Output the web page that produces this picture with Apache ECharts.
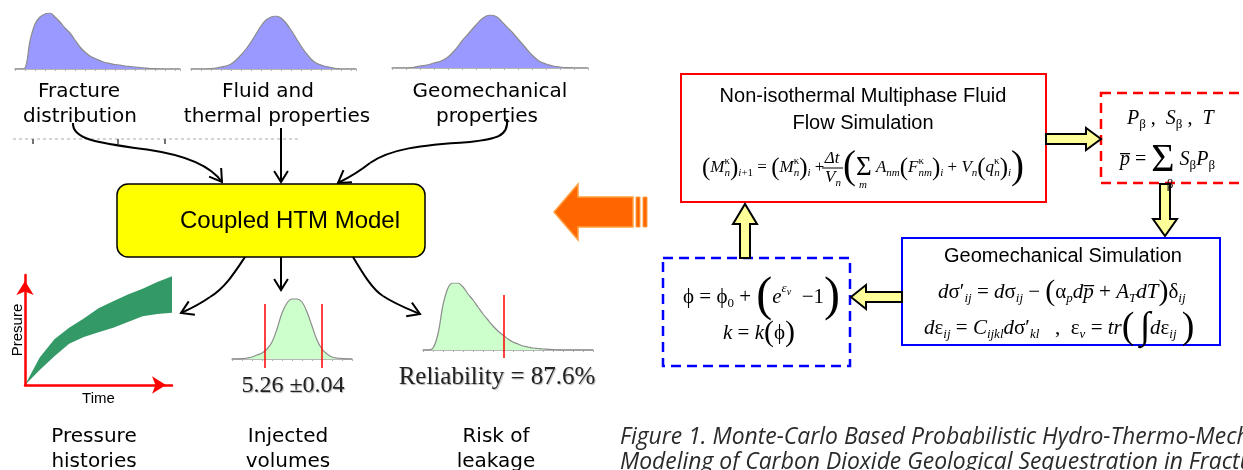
<!DOCTYPE html>
<html><head><meta charset="utf-8">
<script src="https://cdn.jsdelivr.net/npm/echarts@6/dist/echarts.min.js"></script>
<style>html,body{margin:0;padding:0;background:#fff}#c{width:1243px;height:470px}</style>
</head><body><div id="c"></div>
<script>
// ---------------- data ----------------
const fractureDensity = [0,0,1,28,45,52,55,56,52,47,41,36,29,22,17,13,10.5,8.5,6.5,5.5,4.5,4,3,2.5,2,1.5,1,0.5,0.3,0,0,0,0,0];
const fluidDensity    = [0,0,0,0,0.5,1,2,3,5,9,14,20,27,35,43,49,52,53,51,46,39,31,23,16,10,6,4,2.5,1.5,0.5,0,0,0,0];
const geomechDensity  = [0,0,0,0.5,2,3,5,7,11,18,27,35,43,50,53,51,44,37,29,21,13,7,4,2,1,0.3,0,0,0];
const pressureTime  = [0,1,2,3,4,5,6,7,8,9,10];
const pressureUpper = [0,2.4,4.0,5.0,5.8,6.7,7.3,7.9,8.4,9.0,9.5];
const pressureLower = [0,1.3,2.5,3.6,4.2,4.6,5.0,5.5,6.0,6.2,6.3];
const injectedDensity = [0,0,0.3,1,2,4,6,10,17,30,46,56,60,60,57,47,33,19,10,5,2,1,0.5,0,0];
const injectedBounds  = [6.6, 18];
const leakageDensity  = [0,0,2,16,45,62,67,67,63,56,50,43,36,30,24,19,15,11,8,6,4,3,2,1.5,1,0.7,0.4,0.2,0,0,0,0,0,0,0];
const leakageThreshold = [16.2];
const inputLabels  = [['Fracture','distribution'],['Fluid and','thermal properties'],['Geomechanical','properties']];
const outputLabels = [['Pressure','histories'],['Injected','volumes'],['Risk of','leakage']];
const injectedText = '5.26 \u00b10.04';
const reliabilityText = 'Reliability = 87.6%';
const captionLines = ['Figure 1. Monte-Carlo Based Probabilistic Hydro-Thermo-Mechanical','Modeling of Carbon Dioxide Geological Sequestration in Fractured Reservoirs'];

// ---------------- helpers ----------------
const SERIF = '"Liberation Serif","Times New Roman",serif';
const ARIAL = '"Liberation Sans",Arial,sans-serif';
const VERD = '"DejaVu Sans",Verdana,sans-serif';

function txt(x, y, text, size, family, extra) {
  return {type:'text', x:x, y:y, z:20, silent:true,
    style:Object.assign({text:text, fontSize:size, fontFamily:family, fill:'#000', align:'center', verticalAlign:'middle'}, extra || {})};
}
function rect(x, y, w, h, style, r) {
  return {type:'rect', z:5, silent:true, shape:{x:x, y:y, width:w, height:h, r:r||0}, style:style};
}
function poly(points, style) {
  return {type:'polygon', z:15, silent:true, shape:{points:points}, style:style};
}
function bez(p0, c1, c2, p1) {
  return {type:'bezierCurve', z:15, silent:true,
    shape:{x1:p0[0], y1:p0[1], cpx1:c1[0], cpy1:c1[1], cpx2:c2[0], cpy2:c2[1], x2:p1[0], y2:p1[1]},
    style:{stroke:'#000', lineWidth:2, fill:'none'}};
}
function line(p0, p1, style) {
  return {type:'line', z:15, silent:true, shape:{x1:p0[0], y1:p0[1], x2:p1[0], y2:p1[1]}, style:style};
}
function head(tip, from, len, ang) {
  const dx = tip[0]-from[0], dy = tip[1]-from[1], d = Math.hypot(dx, dy);
  const bx = -dx/d, by = -dy/d, a = ang*Math.PI/180, c = Math.cos(a), s = Math.sin(a);
  const p1 = [tip[0]+len*(bx*c-by*s), tip[1]+len*(bx*s+by*c)];
  const p2 = [tip[0]+len*(bx*c+by*s), tip[1]+len*(-bx*s+by*c)];
  return {type:'polyline', z:15, silent:true, shape:{points:[p1, tip, p2]}, style:{stroke:'#000', lineWidth:2, fill:'none'}};
}
// rich-text styles: every token shares one line box (LH); sub/superscripts are shifted
// by giving them a box height and aligning them to the bottom/top of that line box.
function mathRich(size) {
  const LH = Math.round(size*2.8), s = Math.round(size*0.64);
  const hSub = Math.round(LH - 0.6*size), hSup = Math.round(LH - 0.8*size);
  const b = {fontFamily:SERIF, fill:'#000', lineHeight:LH, align:'left'};
  const sub = {fontSize:s, height:hSub, verticalAlign:'bottom'};
  const sup = {fontSize:s, height:hSup, verticalAlign:'top'};
  return {
    r:  Object.assign({}, b, {fontSize:size}),
    i:  Object.assign({}, b, {fontSize:size, fontStyle:'italic'}),
    sb: Object.assign({}, b, sub, {fontStyle:'italic'}),
    sbr:Object.assign({}, b, sub),
    sp: Object.assign({}, b, sup, {fontStyle:'italic'}),
    ss: Object.assign({}, b, {fontSize:Math.round(size*0.48), fontStyle:'italic', height:Math.round(LH - 0.45*size), verticalAlign:'top'}),
    spz:Object.assign({}, b, sup, {width:0.01}),
    P:  Object.assign({}, b, {fontSize:Math.round(size*1.45)}),
    PM: Object.assign({}, b, {fontSize:Math.round(size*1.8)}),
    PP: Object.assign({}, b, {fontSize:Math.round(size*2.3)}),
    S:  Object.assign({}, b, {fontSize:Math.round(size*1.6)}),
    SS: Object.assign({}, b, {fontSize:Math.round(size*2.0)})
  };
}
function math(x, y, text, size) {
  return {type:'text', x:x, y:y, z:20, silent:true,
    style:{text:text, rich:mathRich(size), fontFamily:SERIF, fontSize:size, fill:'#000', align:'left', verticalAlign:'middle'}};
}

// ---------------- graphic (diagram) ----------------
const G = [];
const YEL = {fill:'#ffff99', stroke:'#000', lineWidth:2};

const inX = [[79,80],[268,277],[490,487]];
inputLabels.forEach((l, k) => { G.push(txt(inX[k][0], 92, l[0], 20, VERD)); G.push(txt(inX[k][1], 117, l[1], 20, VERD)); });
const outX = [94, 288, 496];
outputLabels.forEach((l, k) => { G.push(txt(outX[k], 437, l[0], 20, VERD)); G.push(txt(outX[k], 462, l[1], 20, VERD)); });

G.push(line([13,139],[300,139], {stroke:'#c8c8c8', lineWidth:1.5, lineDash:[3,3]}));
[33,118,165].forEach(x => G.push(line([x,139],[x,144], {stroke:'#444', lineWidth:1.5})));

G.push(rect(117, 184, 308, 73, {fill:'#ffff00', stroke:'#000', lineWidth:1.5}, 11));
G.push(txt(290, 221, 'Coupled HTM Model', 24, ARIAL));

G.push(bez([73,123],[72,140],[100,143],[150,150]));
G.push(bez([150,150],[190,156],[212,168],[222,182]));
G.push(head([222,182],[212,168],14,32));
G.push(line([281,128],[281,182], {stroke:'#000', lineWidth:2}));
G.push(head([281,182],[281,170],13,32));
G.push(bez([507,119],[509,137],[495,139],[470,142]));
G.push(bez([470,142],[420,145],[390,149],[370,163]));
G.push(bez([370,163],[360,171],[348,178],[338,183]));
G.push(head([338,183],[348,176],14,32));
G.push(bez([245,257],[235,272],[225,288],[210,297]));
G.push(bez([210,297],[200,304],[190,309],[181,313]));
G.push(head([181,313],[192,308],14,32));
G.push(line([281,257],[281,290], {stroke:'#000', lineWidth:2}));
G.push(head([281,290],[281,280],13,32));
G.push(bez([353,257],[362,272],[372,289],[383,296]));
G.push(bez([383,296],[395,304],[408,309],[420,314]));
G.push(head([420,314],[408,309],14,32));

const shadow = {fill:'#222', textShadowColor:'rgba(0,0,0,0.3)', textShadowBlur:1, textShadowOffsetX:1, textShadowOffsetY:1};
G.push(txt(293, 386, injectedText, 24, SERIF, shadow));
G.push(txt(497, 377, reliabilityText, 25, SERIF, shadow));

G.push(poly([[554,212],[578,184],[578,197],[633,197],[633,227],[578,227],[578,240]], {fill:'#ff6600', stroke:'#ffa040', lineWidth:1.5}));
G.push(rect(636,197,4,30,{fill:'#ff6600', stroke:'#ffa040', lineWidth:1}));
G.push(rect(643,197,4,30,{fill:'#ff6600', stroke:'#ffa040', lineWidth:1}));

// red solid box - fluid flow
G.push(rect(681, 74, 365, 128, {fill:'#fff', stroke:'#ff0000', lineWidth:2}));
G.push(txt(863, 96, 'Non-isothermal Multiphase Fluid', 20, ARIAL));
G.push(txt(863, 123, 'Flow Simulation', 20, ARIAL));
G.push(math(702, 168, '{P|(}{i|M}{spz|\u03ba}{sb|n}{P|)}{sb|i}{sbr|+1}{r| = }{P|(}{i|M}{spz|\u03ba}{sb|n}{P|)}{sb|i}{r| +}', 17));
G.push(txt(832, 159, '\u0394t', 17, SERIF, {fontStyle:'italic'}));
G.push(line([822,168],[843,168], {stroke:'#000', lineWidth:1}));
G.push(math(825, 178, '{i|V}{sb|n}', 17));
G.push(math(843, 168, '{PP|(}{S|\u03a3}{i| A}{sb|nm}{P|(}{i|F}{spz|\u03ba}{sb|nm}{P|)}{sb|i}{r| + }{i|V}{sb|n}{P|(}{i|q}{spz|\u03ba}{sb|n}{P|)}{sb|i}{PP|)}', 17));
G.push(txt(863, 185, 'm', 11, SERIF, {fontStyle:'italic'}));

// red dashed box
G.push(rect(1101, 93, 160, 90, {fill:'#fff', stroke:'#ff0000', lineWidth:2.5, lineDash:[10,6]}));
G.push(math(1127, 119, '{i|P}{sbr|\u03b2}{r| ,  }{i|S}{sbr|\u03b2}{r| ,  }{i|T}', 20));
G.push(math(1120, 160, '{i|p\u0305}{r| = }{SS|\u03a3}{i| S}{sbr|\u03b2}{i|P}{sbr|\u03b2}', 20));
G.push(txt(1170, 185, '\u03b2', 13, SERIF));

// yellow arrows
G.push(poly([[1046,134],[1086,134],[1086,128],[1101,139],[1086,150],[1086,144],[1046,144]], YEL));
G.push(poly([[1160,184],[1170,184],[1170,219],[1177,219],[1165,236],[1153,219],[1160,219]], YEL));
G.push(poly([[902,292],[866,292],[866,285],[851,297],[866,309],[866,302],[902,302]], YEL));
G.push(poly([[740,258],[740,224],[733,224],[745,204],[757,224],[750,224],[750,258]], YEL));

// blue solid box - geomechanics
G.push(rect(902, 238, 318, 107, {fill:'#fff', stroke:'#0000ff', lineWidth:2}));
G.push(txt(1063, 256, 'Geomechanical Simulation', 20, ARIAL));
G.push(math(938, 292, '{i|d}{r|\u03c3\u2032}{sb|ij}{r| = }{i|d}{r|\u03c3}{sb|ij}{r| \u2212 }{P|(}{r|\u03b1}{sb|p}{i|d}{i|p\u0305}{r| + }{i|A}{sb|T}{i|dT}{P|)}{r|\u03b4}{sb|ij}', 21));
G.push(math(924, 328, '{i|d}{r|\u03b5}{sb|ij}{r| = }{i|C}{sb|ijkl}{i|d}{r|\u03c3\u2032}{sb|kl}{r|   ,  \u03b5}{sb|v}{r| = }{i|tr}{PM|(}{r| }{PM|\u222b}{i|d}{r|\u03b5}{sb|ij}{r| }{PM|)}', 21));

// blue dashed box
G.push(rect(663, 258, 187, 108, {fill:'#fff', stroke:'#0000ff', lineWidth:2.5, lineDash:[10,6]}));
G.push(math(683, 297, '{r|\u03d5 = \u03d5}{sbr|0}{r| + }{PP|(}{i|e}{sp|\u03b5}{ss|v}{r|  \u22121}{PP|)}', 21));
G.push(math(723, 333, '{i|k}{r| = }{i|k}{P|(}{r|\u03d5}{P|)}', 21));

// caption
const CAP = '"Open Sans","Noto Sans",sans-serif';
G.push(txt(620, 437, captionLines[0], 22.9, CAP, {align:'left', fontStyle:'italic', fill:'#2a2a2a'}));
G.push(txt(620, 462, captionLines[1], 22.9, CAP, {align:'left', fontStyle:'italic', fill:'#2a2a2a'}));

// ---------------- charts ----------------
const grids = [
  {left:15,  top:13,  width:165, height:56},
  {left:191, top:16,  width:165, height:53},
  {left:392, top:15,  width:196, height:53},
  {left:25,  top:275, width:147, height:110},
  {left:232, top:298, width:120, height:70},
  {left:423, top:283, width:170, height:75}
].map(g => Object.assign({outerBoundsMode:'none', containLabel:false, show:false}, g));

function distX(gi, n, interval) {
  return {type:'value', gridIndex:gi, min:0, max:n-1, interval:interval,
    axisLine:{show:true, onZero:true, lineStyle:{color:'#a0a0a0', width:1.5}},
    axisTick:{show:true, length:2, lineStyle:{color:'#b0b0b0'}},
    axisLabel:{show:false}, splitLine:{show:false}};
}
function distY(gi, min, max) {
  return {type:'value', gridIndex:gi, min:min, max:max, show:false, splitLine:{show:false}};
}
function distSeries(gi, arr, fill) {
  return {type:'line', xAxisIndex:gi, yAxisIndex:gi, data:arr.map((v,i)=>[i,v]), smooth:0.35,
    symbol:'none', silent:true, animation:false, lineStyle:{color:'#8c8c8c', width:1.2},
    areaStyle:{color:fill, opacity:1, origin:'auto'}};
}
const redMark = (xs, top, bottom) => ({symbol:'none', silent:true, label:{show:false}, animation:false,
  lineStyle:{color:'#ff0000', width:1.5, type:'solid'},
  data: xs.map(x => [{coord:[x, bottom]}, {coord:[x, top]}])});

const pressAxisLine = {show:true, onZero:false, lineStyle:{color:'#ff0000', width:2.5}, symbol:['none','arrow'], symbolSize:[13,14], symbolOffset:[0,-6]};
const xAxes = [
  distX(0, fractureDensity.length, 2),
  distX(1, fluidDensity.length, 2),
  distX(2, geomechDensity.length, 2),
  {type:'value', gridIndex:3, min:0, max:10, z:10, name:'Time', nameLocation:'middle', nameGap:6,
    nameTextStyle:{fontFamily:ARIAL, fontSize:15, color:'#000', verticalAlign:'top'},
    axisLine:pressAxisLine, axisTick:{show:false}, axisLabel:{show:false}, splitLine:{show:false}},
  distX(4, injectedDensity.length, 2),
  distX(5, leakageDensity.length, 2)
];
const yAxes = [
  distY(0, 0, 56), distY(1, 0, 53), distY(2, 0, 53),
  {type:'value', gridIndex:3, min:0, max:9.6, z:10, name:'Presure', nameLocation:'middle', nameGap:0, nameRotate:90,
    nameTextStyle:{fontFamily:ARIAL, fontSize:15, color:'#000'},
    axisLine:pressAxisLine, axisTick:{show:false}, axisLabel:{show:false}, splitLine:{show:false}},
  distY(4, -9, 61), distY(5, -8, 67)
];

const series = [
  distSeries(0, fractureDensity, '#9999ff'),
  distSeries(1, fluidDensity, '#9999ff'),
  distSeries(2, geomechDensity, '#9999ff'),
  {type:'line', xAxisIndex:3, yAxisIndex:3, z:2, symbol:'none', silent:true, animation:false,
    data:pressureTime.map((t,i)=>[t, pressureUpper[i]]), lineStyle:{width:0, opacity:0},
    areaStyle:{color:'#339966', opacity:1}},
  {type:'line', xAxisIndex:3, yAxisIndex:3, z:3, symbol:'none', silent:true, animation:false,
    data:pressureTime.map((t,i)=>[t, pressureLower[i]]), lineStyle:{width:0, opacity:0},
    areaStyle:{color:'#ffffff', opacity:1}},
  Object.assign(distSeries(4, injectedDensity, '#ccffcc'), {markLine:redMark(injectedBounds, 55, -9)}),
  Object.assign(distSeries(5, leakageDensity, '#ccffcc'), {markLine:redMark(leakageThreshold, 55, -8)})
];

const chart = echarts.init(document.getElementById('c'), null, {renderer:'canvas'});
chart.setOption({
  backgroundColor:'#fff',
  animation:false,
  grid:grids, xAxis:xAxes, yAxis:yAxes, series:series,
  graphic:{elements:G}
});
</script></body></html>
